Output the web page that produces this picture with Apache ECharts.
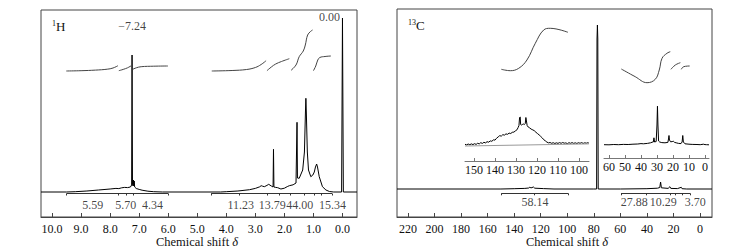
<!DOCTYPE html>
<html>
<head>
<meta charset="utf-8">
<script src="https://cdn.jsdelivr.net/npm/echarts@6/dist/echarts.min.js"></script>
<style>
  html, body { margin: 0; padding: 0; background: #fff; }
  #chart { width: 745px; height: 252px; }
</style>
</head>
<body>
<div id="chart"></div>
<script>
var SERIF = "'Liberation Serif', 'Times New Roman', serif";

// ---- 1H panel ----  [shift ppm, intensity]
var h1Spectrum = [
  [10.38, 0], [9.5, 0], [9.2, 0.3], [8.8, 1], [8.4, 2], [8.0, 3], [7.8, 3.6], [7.7, 3.4],
  [7.6, 4.2], [7.5, 4.6], [7.4, 4.4], [7.3, 5], [7.26, 7], [7.245, 137], [7.23, 8],
  [7.21, 6], [7.195, 12], [7.185, 6], [7.17, 11], [7.155, 5], [7.1, 3.5], [7.0, 2.6],
  [6.9, 1.8], [6.7, 0.8], [6.5, 0.3], [6.2, 0], [4.2, 0], [4.0, 0.3], [3.6, 1], [3.2, 2.3],
  [3.0, 3.6], [2.85, 5.2], [2.8, 6.3], [2.75, 5.8], [2.69, 5.3], [2.6, 6.6], [2.54, 7.7],
  [2.45, 6], [2.39, 5], [2.375, 42.7], [2.36, 5], [2.3, 4.6], [2.23, 4.3], [2.12, 3],
  [2.0, 3.8], [1.9, 5.4], [1.83, 6.3], [1.7, 7.2], [1.6, 9], [1.565, 69.7], [1.55, 14],
  [1.49, 13.7], [1.37, 22], [1.31, 40], [1.275, 80], [1.26, 93.7], [1.245, 80], [1.21, 40],
  [1.17, 22], [1.09, 15.3], [1.02, 17], [0.97, 20], [0.93, 25], [0.89, 28], [0.86, 25],
  [0.8, 15.3], [0.69, 5.3], [0.57, 2], [0.45, 0.5], [0.3, 0], [0.03, 0], [0.0, 174],
  [-0.03, 0], [-0.5, 0]
];
var h1Integrals = [
  [[9.51, 121], [9.0, 121.3], [8.5, 121.9], [8.1, 122.8], [7.9, 124], [7.73, 126.3]],
  [[7.70, 121.3], [7.55, 122.6], [7.4, 124.2], [7.27, 126.3]],
  [[7.22, 122.7], [7.1, 124.2], [6.93, 125.3], [6.5, 125.8], [6.01, 126]],
  [[4.5, 121], [3.8, 121.5], [3.3, 122.5], [3.0, 124.5], [2.8, 127.5], [2.63, 131.3]],
  [[2.6, 121.3], [2.45, 125], [2.3, 128], [2.1, 130.5], [1.83, 133.3]],
  [[1.77, 121.7], [1.6, 127], [1.49, 135.3], [1.35, 141], [1.28, 147], [1.2, 157], [1.1, 160.5], [1.03, 162]],
  [[1.0, 121.3], [0.92, 126], [0.85, 132], [0.78, 134.5], [0.6, 135.5], [0.4, 136]]
];
var h1Bars = [[9.5, 6.0], [4.52, 0.36]];
var h1BarTicks = [9.5, 7.73, 7.45, 7.22, 6.0, 4.52, 3.57, 2.58, 2.17, 1.81, 1.32, 0.97, 0.74, 0.36];
var h1IntValues = ['5.59', '5.70', '4.34', '11.23', '13.79', '44.00', '15.34'];
var h1IntLabelAt = [8.60, 7.46, 6.54, 3.50, 2.42, 1.47, 0.34];
var h1Ticks = [10, 9, 8, 7, 6, 5, 4, 3, 2, 1, 0];

// ---- 13C panel ----
var c13Spectrum = [
  [228.3, 0], [150, 0], [140, 0.3], [132, 0.6], [129, 1], [128.2, 2], [127.5, 1], [125.5, 2],
  [124.5, 0.8], [118, 0.4], [110, 0], [80, 0], [77.9, 0], [77.6, 150], [77.3, 164],
  [77.0, 150], [76.7, 0], [60, 0], [40, 0.3], [32, 0.8], [30.3, 1.5], [29.7, 7], [29.1, 1.2],
  [24, 0.6], [22.7, 2.3], [22, 0.6], [17, 0.4], [14.1, 1.7], [13.5, 0.3], [10, 0], [-9, 0]
];
var c13Integrals = [
  [[149.7, 119.7], [142.9, 118.3], [136.6, 120.7], [130.4, 129], [124.1, 145.7], [117.8, 159], [112.8, 160.7], [99.5, 156.7]],
  [[59.3, 120], [48.8, 112.3], [39.9, 106.3], [33.7, 109.7], [30.7, 119], [28.6, 130.7], [24.9, 135.7], [22.4, 137.3]],
  [[21.9, 119.7], [18.6, 124], [14.8, 126.3]],
  [[14.1, 119.7], [12.3, 122.3], [7.8, 123]]
];
var c13Bars = [[149.6, 99.4], [59.5, 7.5]];
var c13BarTicks = [149.6, 124.7, 99.4, 59.5, 40.7, 22.6, 18.8, 13.0, 7.5];
var c13IntValues = ['58.14', '27.88', '10.29', '3.70'];
var c13IntLabelAt = [124.3, 49.6, 27.7, 3.5];
var c13Ticks = [220, 200, 180, 160, 140, 120, 100, 80, 60, 40, 20, 0];

// ---- 13C insets ----
var insetAromatic = [
  [154.3, 1.2], [153.5, 0.6], [152.8, 1.5], [152, 0.8], [151.3, 1.6], [150.5, 0.9], [149.8, 1.8],
  [149, 1.1], [148.3, 2.2], [147.5, 1.6], [146.8, 2.8], [146, 2.1], [145.3, 3.2], [144.5, 2.6],
  [143.8, 3.8], [143, 3.3], [142.3, 4.6], [141.5, 4.2], [140.8, 5.6], [140, 5.4], [139.3, 7.2],
  [138.5, 8.6], [137.8, 9.8], [137, 9.4], [136.3, 10.8], [135.5, 10.4], [134.8, 11.6], [134, 11.2],
  [133.3, 12.4], [132.5, 12], [131.8, 13.2], [131, 13.4], [130.3, 14.6], [129.5, 15.8], [129, 18],
  [128.6, 20], [128.3, 28], [128.0, 28.5], [127.8, 21], [127.4, 20.5], [127, 21], [126.5, 21.5],
  [126, 21], [125.6, 22], [125.3, 28], [125.0, 28], [124.7, 20], [124.2, 18.5], [123.5, 17.6],
  [122.8, 16.4], [122, 15.6], [121.3, 14.8], [120.5, 13.2], [119.8, 12], [119, 10.6], [118.3, 9.2],
  [117.5, 7.6], [116.8, 5.8], [116, 4.6], [115.3, 3.4], [114.5, 2.6], [113.8, 3], [113, 2.2],
  [112.3, 2.8], [111.5, 2], [110.8, 2.7], [110, 2.1], [109.3, 2.9], [108.5, 2.2], [107.8, 3],
  [107, 2.3], [106.3, 2.6], [105.5, 1.9], [104.8, 2.8], [104, 2.2], [103.3, 2.9], [102.5, 2.1],
  [101.8, 2.7], [101, 2.0], [100.3, 2.8], [99.5, 2.2], [98.8, 2.9], [98, 2.1], [97.3, 2.7],
  [96.5, 2.3], [95.8, 2.8], [95.3, 2.4]
];
var insetAromaticBase = [[154.3, -0.5], [95.3, 1.6]];
var insetAromaticTicks = [150, 140, 130, 120, 110, 100];
var insetAliphatic = [
  [63.1, 0.3], [60, 0.2], [57, 0.5], [54, 0.3], [51, 0.6], [48, 0.5], [45, 0.8], [42, 1.0],
  [40, 1.4], [38.5, 1.2], [36, 1.6], [34, 2.2], [33, 2.8], [32.3, 3], [31.9, 7.2], [31.5, 3],
  [30.5, 3.5], [30.0, 20], [29.7, 38.8], [29.4, 20], [29.0, 4], [28.3, 3], [27, 2.4], [25, 2.2],
  [23.2, 2.6], [22.8, 6], [22.5, 9.5], [22.2, 5], [21.5, 3.2], [20.5, 3.4], [19.8, 3.8], [19, 2.6],
  [18, 2.2], [16.5, 1.6], [15, 1.4], [14.3, 3], [13.9, 9.5], [13.5, 3], [12.5, 1.2], [10, 0.8],
  [8, 0.6], [5, 0.5], [3, 0.3], [1, 0.8], [0, 0.4], [-1, 0.3], [-2.5, 0.2]
];
var insetAliphaticTicks = [60, 50, 40, 30, 20, 10, 0];

var chart = echarts.init(document.getElementById('chart'), null, { renderer: 'svg' });

function xAxisFor(grid, min, max, ticks, fmt, boxed) {
  var lineCol = boxed ? '#444' : '#777';
  return {
    type: 'value', gridIndex: grid, min: min, max: max, inverse: true,
    axisLine: { show: true, onZero: false, lineStyle: { color: lineCol, width: 1 } },
    axisTick: { show: true, inside: true, length: boxed ? 4 : 3, customValues: ticks, lineStyle: { color: lineCol } },
    axisLabel: { customValues: ticks, formatter: fmt, margin: boxed ? 6 : 3, color: '#111', fontSize: 12, fontFamily: SERIF },
    splitLine: { show: false }
  };
}
function yAxisFor(grid, min, max) {
  return { type: 'value', gridIndex: grid, min: min, max: max, show: false };
}
function lineSeries(axis, data, color, smooth) {
  return {
    type: 'line', xAxisIndex: axis, yAxisIndex: axis, data: data, symbol: 'none',
    smooth: smooth || false, lineStyle: { width: 1, color: color }, silent: true
  };
}
function barLines(axis, bars, ticks, y, tickLen) {
  var segs = bars.map(function (b) { return { coords: [[b[0], y], [b[1], y]] }; });
  ticks.forEach(function (t) { segs.push({ coords: [[t, y], [t, y - tickLen]] }); });
  return {
    type: 'lines', coordinateSystem: 'cartesian2d', xAxisIndex: axis, yAxisIndex: axis,
    data: segs, lineStyle: { color: '#333', width: 1, opacity: 1 }, silent: true
  };
}
function textSeries(axis, points, position) {
  return {
    type: 'scatter', xAxisIndex: axis, yAxisIndex: axis, data: points, symbolSize: 1,
    itemStyle: { color: 'rgba(0,0,0,0)' }, silent: true,
    label: {
      show: true, position: position || 'inside', distance: 2,
      formatter: function (p) { return p.value[2]; },
      color: '#111', fontSize: 12, fontFamily: SERIF
    }
  };
}

var fmt1 = function (v) { return v.toFixed(1); };
var fmt0 = function (v) { return String(v); };

var series = [];
series.push(lineSeries(0, h1Spectrum, '#000'));
h1Integrals.forEach(function (seg) { series.push(lineSeries(0, seg, '#444', 0.4)); });
series.push(barLines(0, h1Bars, h1BarTicks, -1.5, 2));
series.push(textSeries(0, h1IntValues.map(function (v, i) { return [h1IntLabelAt[i], -12.5, v]; })));
series.push(textSeries(0, [[7.24, 166, '\u22127.24']]));
series.push(textSeries(0, [[0.0, 175, '0.00']], 'left'));

series.push(lineSeries(1, c13Spectrum, '#000'));
c13Integrals.forEach(function (seg) { series.push(lineSeries(1, seg, '#444', 0.4)); });
series.push(barLines(1, c13Bars, c13BarTicks, -4.3, 2));
series.push(textSeries(1, c13IntValues.map(function (v, i) { return [c13IntLabelAt[i], -12.5, v]; })));

series.push(lineSeries(2, insetAromatic, '#000'));
series.push(lineSeries(2, insetAromaticBase, '#999'));
series.push(lineSeries(3, insetAliphatic, '#000'));

var titleRich = {
  a: { fontSize: 12.5, fontFamily: SERIF, fill: '#111' },
  b: { fontSize: 12.5, fontFamily: SERIF, fontStyle: 'italic', fill: '#111' }
};
var nucRich = {
  s: { fontSize: 8, fontFamily: SERIF, fill: '#111', verticalAlign: 'top' },
  n: { fontSize: 13, fontFamily: SERIF, fill: '#111' }
};

chart.setOption({
  animation: false,
  grid: [
    { left: 41, top: 10, width: 316, height: 207, show: true, borderColor: '#444', borderWidth: 1 },
    { left: 397, top: 9, width: 315, height: 208, show: true, borderColor: '#444', borderWidth: 1 },
    { left: 465, top: 100, width: 124, height: 61 },
    { left: 604, top: 99, width: 105, height: 59 }
  ],
  xAxis: [
    xAxisFor(0, -0.5, 10.38, h1Ticks, fmt1, true),
    xAxisFor(1, -9.04, 228.3, c13Ticks, fmt0, true),
    xAxisFor(2, 95.24, 154.3, insetAromaticTicks, fmt0, false),
    xAxisFor(3, -2.5, 63.1, insetAliphaticTicks, fmt0, false)
  ],
  yAxis: [
    yAxisFor(0, -25, 182),
    yAxisFor(1, -28, 180),
    yAxisFor(2, -15.5, 45.5),
    yAxisFor(3, -13, 46)
  ],
  series: series,
  graphic: [
    { type: 'text', x: 52, y: 26, style: { text: '{s|1}{n|H}', rich: nucRich, verticalAlign: 'middle' } },
    { type: 'text', x: 408, y: 25, style: { text: '{s|13}{n|C}', rich: nucRich, verticalAlign: 'middle' } },
    { type: 'text', x: 197, y: 242, style: { text: '{a|Chemical shift }{b|\u03b4}', rich: titleRich, align: 'center', verticalAlign: 'middle' } },
    { type: 'text', x: 567, y: 242, style: { text: '{a|Chemical shift }{b|\u03b4}', rich: titleRich, align: 'center', verticalAlign: 'middle' } }
  ]
});
</script>
</body>
</html>
